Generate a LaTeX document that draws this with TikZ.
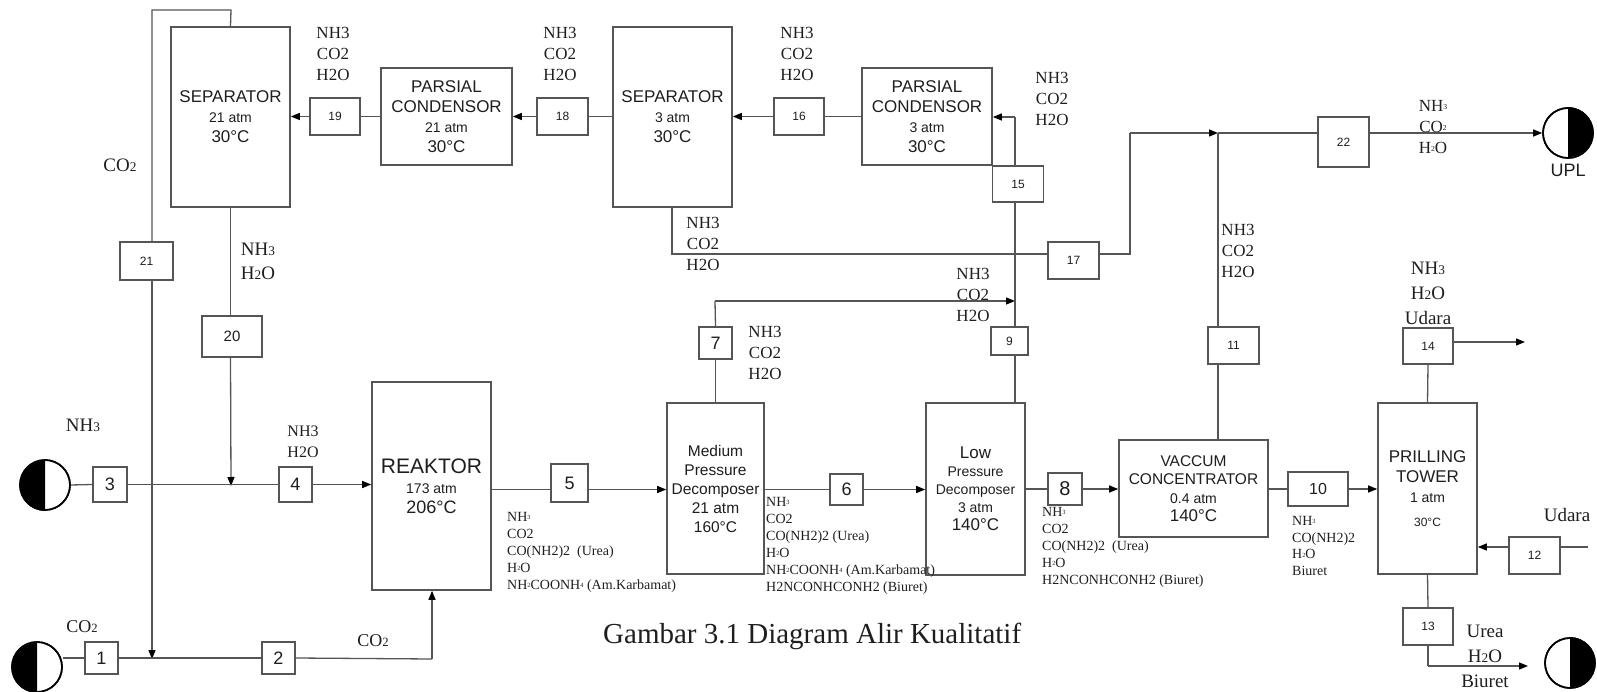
\documentclass[tikz,border=0pt]{standalone}
\usepackage{fontspec}
\setmainfont{Liberation Serif}
\newfontfamily\arialf{Liberation Sans}
\usetikzlibrary{arrows.meta,calc}
\definecolor{ln}{RGB}{85,85,85}
\definecolor{tx}{RGB}{30,30,30}
\newcommand\fs[1]{\fontsize{#1}{#1}\selectfont}
\newcommand\lo[1]{\scalebox{0.7}{#1}}
\newcommand\ti[1]{\raisebox{0.25ex}{\scalebox{0.45}{#1}}}
\tikzset{
  unit/.style={draw=ln, line width=1.6pt, fill=white, align=center, text=tx, inner sep=1pt},
  num/.style={draw=ln, line width=1.4pt, fill=white, text=tx, font=\arialf\fs{12}, inner sep=0pt},
  lab/.style={font=\fontsize{17}{21}\selectfont, align=center, inner sep=0pt, text=tx},
  slab/.style={font=\fontsize{14}{17}\selectfont, align=left, anchor=north west, inner sep=0pt, text=tx},
  flow/.style={draw=ln, line width=1.3pt},
  arr/.style={flow, -{Triangle[length=9pt,width=7pt,color=black]}},
  src/.style={circle, draw=black, line width=1.6pt, minimum size=50pt, inner sep=0pt}
}
\begin{document}
\begin{tikzpicture}[x=1pt,y=-1pt]
\useasboundingbox (0,0) rectangle (1597,692);

% ---------- main units ----------
\node[unit, minimum width=119pt, minimum height=180pt, font=\arialf\fontsize{17}{20}\selectfont] (sepL) at (230.5,117)
  {SEPARATOR\\{\fs{14}21 atm}\\30°C};
\node[unit, minimum width=131pt, minimum height=97pt, font=\arialf\fontsize{17}{20}\selectfont] (pc21) at (446.5,116.5)
  {PARSIAL\\CONDENSOR\\{\fs{14}21 atm}\\30°C};
\node[unit, minimum width=119pt, minimum height=180pt, font=\arialf\fontsize{17}{20}\selectfont] (sepM) at (672.5,117)
  {SEPARATOR\\{\fs{14}3 atm}\\30°C};
\node[unit, minimum width=130pt, minimum height=97pt, font=\arialf\fontsize{17}{20}\selectfont] (pc3) at (927,116.5)
  {PARSIAL\\CONDENSOR\\{\fs{14}3 atm}\\30°C};
\node[unit, minimum width=119pt, minimum height=208pt, font=\arialf\fontsize{21}{20}\selectfont] (rk) at (431.5,486)
  {REAKTOR\\{\fs{14}173 atm}\\{\fs{18}206°C}};
\node[unit, minimum width=97pt, minimum height=171pt, font=\arialf\fontsize{15.5}{19}\selectfont] (mpd) at (715.5,488.5)
  {Medium\\Pressure\\Decomposer\\21 atm\\160°C};
\node[unit, minimum width=99pt, minimum height=172pt, font=\arialf\fontsize{14}{18}\selectfont] (lpd) at (975.5,489)
  {{\fs{17}Low}\\Pressure\\Decomposer\\3 atm\\{\fs{17}140°C}};
\node[unit, minimum width=149pt, minimum height=97pt, font=\arialf\fontsize{15.5}{18.5}\selectfont] (vc) at (1193.5,488.5)
  {VACCUM\\CONCENTRATOR\\{\fs{14}0.4 atm}\\{\fs{17}140°C}};
\node[unit, minimum width=99pt, minimum height=171pt, font=\arialf\fontsize{17}{20}\selectfont] (pt) at (1427.5,488.5)
  {PRILLING\\TOWER\\{\fs{14}1 atm}\\[4pt]{\fs{12}30°C}};

% ---------- stream number boxes ----------
\node[num, minimum width=50pt, minimum height=37pt] (b19) at (335,116.5) {19};
\node[num, minimum width=51pt, minimum height=37pt] (b18) at (562.5,116.5) {18};
\node[num, minimum width=50pt, minimum height=37pt] (b16) at (799,116.5) {16};
\node[num, minimum width=51pt, minimum height=36pt] (b15) at (1018,184) {15};
\node[num, minimum width=51pt, minimum height=50pt] (b22) at (1343.5,142) {22};
\node[num, minimum width=51pt, minimum height=37pt] (b17) at (1073.5,260.5) {17};
\node[num, minimum width=53pt, minimum height=38pt] (b21) at (146.5,261) {21};
\node[num, minimum width=60pt, minimum height=41pt, font=\arialf\fs{15}] (b20) at (232,336.5) {20};
\node[num, minimum width=33pt, minimum height=32pt, font=\arialf\fs{18}] (b7) at (715.5,343) {7};
\node[num, minimum width=37pt, minimum height=28pt] (b9) at (1009.5,341) {9};
\node[num, minimum width=51pt, minimum height=37pt] (b11) at (1233.5,345.5) {11};
\node[num, minimum width=50pt, minimum height=36pt] (b14) at (1428,346) {14};
\node[num, minimum width=50pt, minimum height=37pt] (b13) at (1428,626.5) {13};
\node[num, minimum width=51pt, minimum height=37pt] (b12) at (1534.5,555.5) {12};
\node[num, minimum width=60pt, minimum height=34pt, font=\arialf\fs{16}] (b10) at (1318,489) {10};
\node[num, minimum width=34pt, minimum height=32pt, font=\arialf\fs{20}] (b8) at (1065,489) {8};
\node[num, minimum width=33pt, minimum height=31pt, font=\arialf\fs{18}] (b6) at (846.5,489.5) {6};
\node[num, minimum width=37pt, minimum height=38pt, font=\arialf\fs{18}] (b5) at (569.5,483) {5};
\node[num, minimum width=33pt, minimum height=35pt, font=\arialf\fs{18}] (b4) at (295.5,484.5) {4};
\node[num, minimum width=34pt, minimum height=35pt, font=\arialf\fs{18}] (b3) at (110,484.5) {3};
\node[num, minimum width=33pt, minimum height=32pt, font=\arialf\fs{18}] (b1) at (101.5,658) {1};
\node[num, minimum width=33pt, minimum height=32pt, font=\arialf\fs{18}] (b2) at (278.5,658) {2};

% ---------- sources / sinks ----------
\node[src] (sNH) at (45,485) {};
\fill[black] (sNH.south) arc[start angle=270,end angle=90,radius=25pt] -- cycle;
\node[src] at (45,485) {};
\node[src] (sCO) at (37,667) {};
\fill[black] (sCO.south) arc[start angle=270,end angle=90,radius=25pt] -- cycle;
\node[src] at (37,667) {};
\node[src] (upl) at (1568,133) {};
\fill[black] (upl.north) arc[start angle=90,end angle=-90,radius=25pt] -- cycle;
\node[src] at (1568,133) {};
\node[src] (prod) at (1570,663) {};
\fill[black] (prod.north) arc[start angle=90,end angle=-90,radius=25pt] -- cycle;
\node[src] at (1570,663) {};
\node[font=\arialf\fs{18}, text=tx, inner sep=0pt] (upllab) at (1568,170) {UPL};

% ---------- helper coordinates ----------
\coordinate (top1) at (231,10);
\coordinate (top2) at (152,10);
\coordinate (m1) at (152,659);
\coordinate (m20) at (231,486);
\coordinate (c2) at (432,659);
\coordinate (s17a) at (672,254);
\coordinate (s17b) at (1130,254);
\coordinate (s17c) at (1130,133);
\coordinate (j) at (1218,133);
\coordinate (c7) at (715,301);
\coordinate (t7) at (1015,301);
\coordinate (c15) at (1018,117);
\coordinate (o14) at (1525,342);
\coordinate (i12) at (1588,547);
\coordinate (c13) at (1428,666);
\coordinate (o13) at (1528,666);

% ---------- connectors ----------
% top recycle CO2 loop
\draw[flow] (sepL.north) -- (top1) -- (top2) -- (b21.north -| top2);
\draw[arr] (b21.south -| top2) -- (m1);
\draw[flow] (sepL.south) -- (b20.north -| sepL.south);
\draw[arr] (b20.south -| sepL.south) -- (m20);
% feeds
\draw[flow] (sNH.east) -- (b3.west);
\draw[flow] (b3.east) -- (b4.west |- b3.east);
\draw[arr] (b4.east) -- (rk.west |- b4.east);
\draw[flow] (sCO.east |- b1.west) -- (b1.west);
\draw[flow] (b1.east) -- (b2.west);
\draw[flow] (b2.east) -- (c2);
\draw[arr] (c2) -- (rk.south -| c2);
% main line
\draw[flow] (rk.east |- b6.west) -- (b5.west |- b6.west);
\draw[arr] (b5.east |- b6.west) -- (mpd.west |- b6.west);
\draw[flow] (mpd.east |- b6.west) -- (b6.west);
\draw[arr] (b6.east) -- (lpd.west |- b6.east);
\draw[flow] (lpd.east |- b8.west) -- (b8.west);
\draw[arr] (b8.east) -- (vc.west |- b8.east);
\draw[flow] (vc.east |- b10.west) -- (b10.west);
\draw[arr] (b10.east) -- (pt.west |- b10.east);
% overheads
\draw[flow] (mpd.north) -- (b7.south);
\draw[flow] (b7.north) -- (c7);
\draw[arr] (c7) -- (t7);
\draw[flow] (lpd.north -| t7) -- (b9.south -| t7);
\draw[flow] (b9.north -| t7) -- (b15.south -| t7);
\draw[flow] (b15.north -| t7) -- (c15 -| t7);
\draw[arr] (c15 -| t7) -- (pc3.east |- c15);
\draw[flow] (pc3.west |- b16.east) -- (b16.east);
\draw[arr] (b16.west) -- (sepM.east |- b16.west);
\draw[flow] (sepM.west |- b18.east) -- (b18.east);
\draw[arr] (b18.west) -- (pc21.east |- b18.west);
\draw[flow] (pc21.west |- b19.east) -- (b19.east);
\draw[arr] (b19.west) -- (sepL.east |- b19.west);
% separator bottoms to UPL
\draw[flow] (sepM.south -| s17a) -- (s17a) -- (b17.west |- s17a);
\draw[flow] (b17.east |- s17b) -- (s17b) -- (s17c);
\draw[arr] (s17c) -- (j);
\draw[flow] (vc.north -| j) -- (b11.south -| j);
\draw[flow] (b11.north -| j) -- (j);
\draw[flow] (j) -- (b22.west |- j);
\draw[arr] (b22.east |- j) -- (upl.west);
% prilling tower
\draw[flow] (pt.north) -- (b14.south);
\draw[arr] (b14.east |- o14) -- (o14);
\draw[flow] (i12) -- (b12.east |- i12);
\draw[arr] (b12.west |- i12) -- (pt.east |- i12);
\draw[flow] (pt.south) -- (b13.north);
\draw[flow] (b13.south) -- (c13);
\draw[arr] (c13) -- (o13);

% ---------- stream labels ----------
\node[lab] (l19) at (333,54) {NH3\\CO2\\H2O};
\node[lab] (l18) at (560,54) {NH3\\CO2\\H2O};
\node[lab] (l16) at (797,54) {NH3\\CO2\\H2O};
\node[lab] (l15) at (1052,99) {NH3\\CO2\\H2O};
\node[lab] (l22) at (1433,127) {NH\ti{3}\\CO\ti{2}\\H\ti{2}O};
\node[lab, font=\fs{19}] (lco2a) at (120,165) {CO\lo{2}};
\node[lab, font=\fontsize{19}{24}\selectfont] (l20) at (258,261) {NH\lo{3}\\H\lo{2}O};
\node[lab, font=\fs{19}] (lnh3) at (83,425) {NH\lo{3}};
\node[lab, font=\fontsize{16}{21}\selectfont] (l4) at (303,442) {NH3\\H2O};
\node[lab, font=\fs{18}] (l1) at (82,627) {CO\lo{2}};
\node[lab, font=\fs{18}] (l2) at (373,641) {CO\lo{2}};
\node[lab] (l17) at (703,244) {NH3\\CO2\\H2O};
\node[lab] (l7) at (765,353) {NH3\\CO2\\H2O};
\node[lab] (l9) at (973,295) {NH3\\CO2\\H2O};
\node[lab] (l11) at (1238,251) {NH3\\CO2\\H2O};
\node[lab, font=\fontsize{19}{25}\selectfont] (l14) at (1428,293) {NH\lo{3}\\H\lo{2}O\\Udara};
\node[lab, font=\fs{19}] (l12) at (1567,515) {Udara};
\node[lab, font=\fontsize{19}{25}\selectfont] (l13) at (1485,656) {Urea\\H\lo{2}O\\Biuret};

\node[slab] (l5) at (507,512)
  {NH\ti{3}\\CO2\\CO(NH2)2\ \ (Urea)\\H\ti{2}O\\NH\ti{2}COONH\ti{4} (Am.Karbamat)};
\node[slab] (l6) at (766,497)
  {NH\ti{3}\\CO2\\CO(NH2)2 (Urea)\\H\ti{2}O\\NH\ti{2}COONH\ti{4} (Am.Karbamat)\\H2NCONHCONH2 (Biuret)};
\node[slab] (l8) at (1042,507)
  {NH\ti{3}\\CO2\\CO(NH2)2\ \ (Urea)\\H\ti{2}O\\H2NCONHCONH2 (Biuret)};
\node[slab, font=\fontsize{14}{16.7}\selectfont] (l10) at (1292,516)
  {NH\ti{3}\\CO(NH2)2\\H\ti{2}O\\Biuret};

% ---------- caption ----------
\node[anchor=base west, font=\fs{29}, inner sep=0pt, text=tx] (cap) at (603,643) {Gambar 3.1 Diagram Alir Kualitatif};
\end{tikzpicture}
\end{document}
